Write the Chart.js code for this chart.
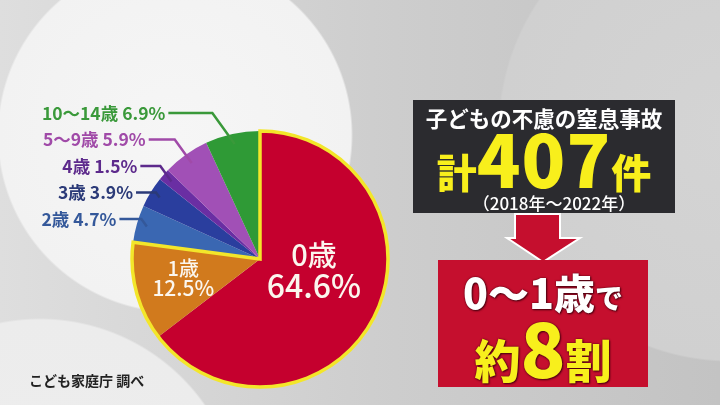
<!DOCTYPE html>
<html lang="ja">
<head>
<meta charset="utf-8">
<script src="https://cdn.jsdelivr.net/npm/chart.js@4.4.1/dist/chart.umd.min.js"></script>
<style>
html, body { margin: 0; padding: 0; }
body {
  width: 720px; height: 405px; overflow: hidden; position: relative;
  font-family: "Noto Sans CJK JP", "Noto Sans", sans-serif;
  background:
    radial-gradient(circle at 175px 135px, #f6f6f6 0, #f2f2f2 176px, transparent 178px),
    radial-gradient(circle at 40px 520px, #eeeeee 0, #ececec 200px, transparent 202px),
    radial-gradient(circle at 730px 130px, #d4d4d4 0, #d0d0d0 230px, transparent 232px),
    linear-gradient(90deg, #dedede 0%, #cdcdcd 55%, #c3c3c3 100%);
}
#pie { position: absolute; left: 0; top: 0; width: 720px; height: 405px; }
.darkbox {
  position: absolute; left: 413px; top: 100px; width: 262px; height: 113px;
  background: #2b2b2f; color: #fff; text-align: center;
}
.darkbox .l1 { position: absolute; left: 0; right: 0; top: 5px; font-size: 21.5px; font-weight: 700; line-height: 26px; }
.darkbox .l2 { position: absolute; left: 0; right: 0; top: 22px; line-height: 70px; color: #f8ef1c; font-weight: 900; white-space: nowrap; }
.darkbox .l2 .k { font-size: 40px; }
.darkbox .l2 .n { font-size: 72px; letter-spacing: 1px; }
.darkbox .l3 { position: absolute; left: 20px; right: 0; top: 92px; font-size: 17px; line-height: 22px; font-weight: 500; }
.redbox {
  position: absolute; left: 438px; top: 260px; width: 210px; height: 127px;
  background: #c50f2e; text-align: center; white-space: nowrap;
}
.redbox .r1 { position: absolute; left: 0; right: 0; top: 6px; line-height: 50px; color: #fff; font-weight: 900;
  text-shadow: 0 0 2px #4a0010, 1px 1px 2px #4a0010; }
.redbox .r1 .a { font-size: 41px; }
.redbox .r1 .b { font-size: 28px; }
.redbox .r2 { position: absolute; left: 0; right: 0; top: 51px; line-height: 70px; color: #f8ef1c; font-weight: 900;
  text-shadow: 0 0 2px #4a0010, 1px 1px 2px #4a0010; }
.redbox .r2 .a { font-size: 46px; }
.redbox .r2 .b { font-size: 74px; }
.src { position: absolute; left: 29px; top: 370px; font-size: 14px; font-weight: 700; color: #222; }
svg.arrow { position: absolute; left: 0; top: 0; }
</style>
</head>
<body>
<canvas id="pie" width="720" height="405"></canvas>

<div class="darkbox">
  <div class="l1">子どもの不慮の窒息事故</div>
  <div class="l2"><span class="k">計</span><span class="n">407</span><span class="k">件</span></div>
  <div class="l3">（2018年〜2022年）</div>
</div>
<svg class="arrow" width="720" height="405">
  <polygon points="515,214 560,214 560,238 580,238 543,262 507,238 515,238"
           fill="#c50f2e" stroke="#ffffff" stroke-width="2" stroke-linejoin="miter"/>
</svg>
<div class="redbox">
  <div class="r1"><span class="a">0〜1歳</span><span class="b">で</span></div>
  <div class="r2"><span class="a">約</span><span class="b">8</span><span class="a">割</span></div>
</div>
<div class="src">こども家庭庁 調べ</div>

<script>
// 年齢別の割合 (%)
const ageGroups = ["0歳", "1歳", "2歳", "3歳", "4歳", "5〜9歳", "10〜14歳"];
const shares = [64.6, 12.5, 4.7, 3.9, 1.5, 5.9, 6.9];
const sliceColors = ["#c5002e", "#d17a1d", "#3a67b2", "#2a3e9e", "#6a2ea3", "#a150b6", "#2f9a36"];
const labelColors = [null, null, "#34589a", "#2b3a78", "#5d2a8c", "#a04aa8", "#3a993a"];

const pieDecor = {
  id: "pieDecor",
  afterDatasetsDraw(chart) {
    const ctx = chart.ctx;
    const arcs = chart.getDatasetMeta(0).data;
    const a0 = arcs[0], a1 = arcs[1];
    const cx = a0.x, cy = a0.y, r = a0.outerRadius;

    // 0〜1歳 を黄色で囲む
    ctx.save();
    ctx.beginPath();
    ctx.moveTo(cx, cy);
    ctx.arc(cx, cy, r, a0.startAngle, a1.endAngle);
    ctx.closePath();
    ctx.lineWidth = 3.5;
    ctx.strokeStyle = "#f3e62a";
    ctx.lineJoin = "miter";
    ctx.stroke();

    // 内側ラベル
    ctx.fillStyle = "#fbf6ee";
    ctx.textAlign = "center";
    ctx.textBaseline = "middle";
    const inner = [
      { i: 0, f: 0.47, dy: -16, s1: 29, s2: 32 },
      { i: 1, f: 0.62, dy: -2, s1: 20, s2: 21 }
    ];
    inner.forEach(o => {
      const a = arcs[o.i];
      const mid = (a.startAngle + a.endAngle) / 2;
      const x = cx + Math.cos(mid) * r * o.f;
      const y = cy + Math.sin(mid) * r * o.f + o.dy;
      ctx.font = "500 " + o.s1 + "px 'Noto Sans CJK JP'";
      ctx.fillText(ageGroups[o.i], x, y - o.s2 * 0.45);
      ctx.font = "500 " + o.s2 + "px 'Noto Sans CJK JP'";
      ctx.fillText(shares[o.i].toFixed(1) + "%", x, y + o.s2 * 0.5);
    });

    // 外側ラベル (引き出し線)
    const outer = [6, 5, 4, 3, 2];
    const leaderLen = [44, 26, 20, 20, 22];
    outer.forEach((idx, k) => {
      const a = arcs[idx];
      const mid = (a.startAngle + a.endAngle) / 2;
      const ax = cx + Math.cos(mid) * r * 0.92;
      const ay = cy + Math.sin(mid) * r * 0.92;
      const ly = cy - r - 18 + k * 26.5;
      const ex = ax - (ay - ly) * 0.72;
      const tx = ex - leaderLen[k];
      ctx.beginPath();
      ctx.moveTo(tx, ly);
      ctx.lineTo(ex, ly);
      ctx.lineTo(ax, ay);
      ctx.lineWidth = 2.5;
      ctx.strokeStyle = labelColors[idx];
      ctx.stroke();
      ctx.font = "600 17.5px 'Noto Sans CJK JP'";
      ctx.fillStyle = labelColors[idx];
      ctx.textAlign = "right";
      ctx.fillText(ageGroups[idx] + " " + shares[idx].toFixed(1) + "%", tx - 3, ly);
    });
    ctx.restore();
  }
};

new Chart(document.getElementById("pie"), {
  type: "pie",
  data: {
    labels: ageGroups,
    datasets: [{ data: shares, backgroundColor: sliceColors, borderWidth: 0 }]
  },
  options: {
    responsive: false,
    animation: false,
    layout: { padding: { left: 132, right: 332, top: 131, bottom: 18 } },
    plugins: { legend: { display: false }, tooltip: { enabled: false } }
  },
  plugins: [pieDecor]
});
</script>
</body>
</html>
